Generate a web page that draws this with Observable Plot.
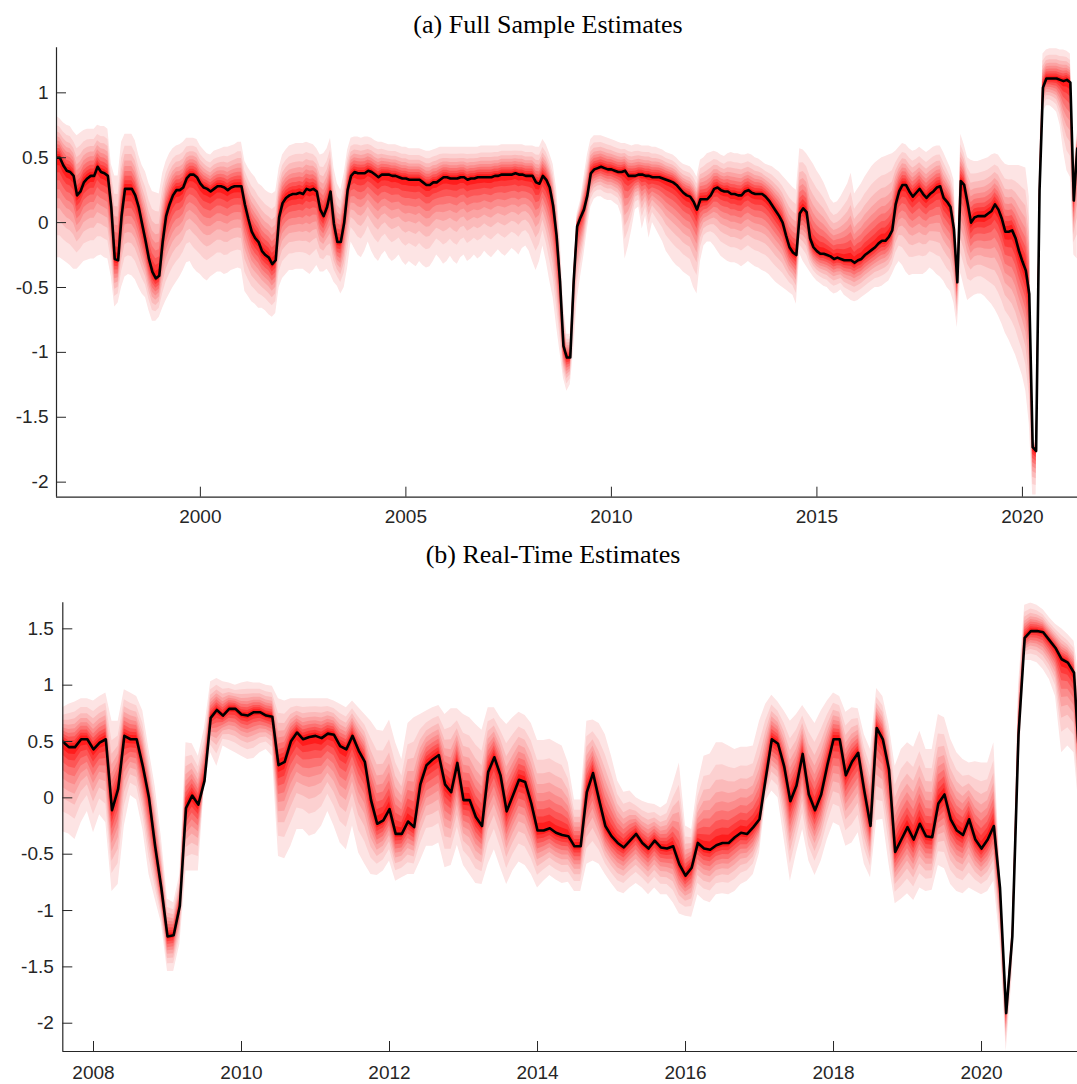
<!DOCTYPE html>
<html>
<head>
<meta charset="utf-8">
<script src="https://cdn.jsdelivr.net/npm/d3@7"></script>
<script src="https://cdn.jsdelivr.net/npm/@observablehq/plot@0.6"></script>
<style>
  body { margin: 0; background: #fff; }
  #root { position: relative; width: 1077px; height: 1084px; overflow: hidden; background: #fff; }
  .panel { position: absolute; left: 0; }
  .title { position: absolute; left: 0; text-align: center; font-family: "Liberation Serif", "Times New Roman", serif; font-size: 26px; line-height: 26px; color: #000; white-space: nowrap; }
</style>
</head>
<body>
<div id="root">
  <div id="pa" class="panel" style="top:0px"></div>
  <div id="pb" class="panel" style="top:540px"></div>
  <div class="title" style="top:12px; width:1096px;">(a) Full Sample Estimates</div>
  <div class="title" style="top:542px; width:1106px;">(b) Real-Time Estimates</div>
</div>
<script>
// ---------- Panel (a): full sample, monthly from Jul 1996 ----------
const startA = 1996.5;
const medA = [
 0.50,0.50,0.44,0.40,0.39,0.36,0.21,0.24,0.31,0.34,
 0.36,0.36,0.43,0.39,0.38,0.36,0.12,-0.28,-0.29,0.05,
 0.26,0.26,0.26,0.21,0.12,-0.01,-0.14,-0.28,-0.38,-0.43,
 -0.41,-0.15,0.05,0.14,0.21,0.25,0.25,0.27,0.34,0.37,
 0.37,0.35,0.30,0.27,0.26,0.24,0.26,0.28,0.28,0.27,
 0.25,0.27,0.28,0.28,0.28,0.14,0.03,-0.07,-0.12,-0.15,
 -0.22,-0.25,-0.27,-0.32,-0.29,0.04,0.15,0.19,0.21,0.22,
 0.22,0.23,0.22,0.26,0.25,0.26,0.24,0.10,0.05,0.12,
 0.24,-0.01,-0.15,-0.15,0.00,0.25,0.36,0.39,0.38,0.38,
 0.38,0.40,0.39,0.37,0.35,0.37,0.37,0.37,0.36,0.36,
 0.35,0.34,0.34,0.33,0.33,0.33,0.33,0.31,0.29,0.29,
 0.31,0.31,0.33,0.35,0.35,0.34,0.34,0.34,0.35,0.35,
 0.33,0.34,0.34,0.35,0.35,0.35,0.35,0.35,0.36,0.36,
 0.37,0.37,0.37,0.37,0.38,0.37,0.37,0.36,0.36,0.36,
 0.31,0.30,0.36,0.33,0.27,0.13,-0.10,-0.45,-0.95,-1.04,
 -1.04,-0.45,-0.03,0.04,0.10,0.21,0.38,0.41,0.42,0.43,
 0.42,0.41,0.41,0.40,0.39,0.39,0.40,0.36,0.36,0.36,
 0.37,0.37,0.36,0.36,0.35,0.35,0.35,0.34,0.33,0.32,
 0.31,0.29,0.26,0.23,0.21,0.20,0.16,0.10,0.18,0.18,
 0.18,0.21,0.26,0.27,0.25,0.24,0.24,0.22,0.22,0.21,
 0.21,0.24,0.25,0.23,0.22,0.22,0.22,0.20,0.17,0.13,
 0.09,0.05,0.00,-0.10,-0.19,-0.23,-0.25,0.07,0.11,0.08,
 -0.12,-0.19,-0.22,-0.24,-0.24,-0.25,-0.26,-0.28,-0.27,-0.28,
 -0.29,-0.29,-0.29,-0.31,-0.29,-0.28,-0.25,-0.23,-0.21,-0.19,
 -0.16,-0.14,-0.14,-0.11,-0.06,0.14,0.24,0.29,0.29,0.24,
 0.20,0.23,0.26,0.22,0.19,0.22,0.24,0.27,0.28,0.19,
 0.16,0.12,-0.05,-0.46,0.32,0.29,0.15,0.00,0.04,0.05,
 0.05,0.05,0.07,0.09,0.14,0.10,0.03,-0.07,-0.07,-0.06,
 -0.12,-0.22,-0.30,-0.37,-0.55,-1.73,-1.76,0.25,1.04,1.11,
 1.11,1.11,1.11,1.10,1.09,1.10,1.08,0.17,0.57
];
const hiA = [
 0.82,0.80,0.77,0.75,0.74,0.70,0.67,0.69,0.71,0.72,
 0.72,0.72,0.75,0.74,0.74,0.72,0.45,0.36,0.36,0.62,
 0.68,0.68,0.68,0.63,0.52,0.44,0.39,0.30,0.24,0.23,
 0.22,0.38,0.47,0.53,0.57,0.59,0.60,0.62,0.65,0.65,
 0.65,0.64,0.59,0.56,0.53,0.52,0.55,0.56,0.57,0.58,
 0.58,0.59,0.60,0.62,0.62,0.47,0.42,0.38,0.35,0.30,
 0.28,0.25,0.23,0.22,0.24,0.42,0.52,0.56,0.59,0.60,
 0.61,0.61,0.61,0.62,0.61,0.60,0.57,0.52,0.53,0.57,
 0.65,0.42,0.30,0.25,0.38,0.56,0.65,0.66,0.66,0.65,
 0.66,0.66,0.65,0.63,0.62,0.62,0.61,0.60,0.60,0.60,
 0.59,0.58,0.58,0.57,0.57,0.57,0.57,0.56,0.55,0.55,
 0.56,0.57,0.58,0.58,0.58,0.58,0.58,0.58,0.58,0.58,
 0.58,0.58,0.58,0.58,0.59,0.59,0.59,0.59,0.59,0.59,
 0.60,0.60,0.60,0.60,0.60,0.60,0.60,0.59,0.59,0.59,
 0.58,0.58,0.64,0.60,0.53,0.45,0.26,-0.09,-0.62,-0.86,
 -0.86,-0.34,0.07,0.17,0.35,0.52,0.64,0.67,0.67,0.67,
 0.66,0.65,0.64,0.63,0.62,0.61,0.61,0.60,0.59,0.60,
 0.60,0.59,0.59,0.59,0.58,0.58,0.57,0.56,0.54,0.53,
 0.52,0.50,0.47,0.45,0.44,0.43,0.40,0.35,0.48,0.50,
 0.53,0.54,0.55,0.54,0.52,0.51,0.53,0.54,0.53,0.53,
 0.52,0.52,0.53,0.52,0.50,0.49,0.47,0.45,0.44,0.43,
 0.41,0.39,0.36,0.33,0.30,0.27,0.25,0.57,0.56,0.53,
 0.49,0.45,0.40,0.36,0.31,0.25,0.18,0.15,0.16,0.20,
 0.25,0.30,0.38,0.22,0.26,0.30,0.35,0.39,0.43,0.46,
 0.48,0.50,0.51,0.52,0.53,0.55,0.58,0.61,0.60,0.57,
 0.55,0.56,0.58,0.56,0.54,0.56,0.58,0.59,0.59,0.54,
 0.48,0.42,0.33,-0.24,0.68,0.60,0.50,0.48,0.47,0.47,
 0.48,0.49,0.50,0.52,0.53,0.52,0.48,0.45,0.44,0.44,
 0.44,0.44,0.43,0.42,0.20,-1.68,-1.68,0.50,1.30,1.33,
 1.34,1.34,1.34,1.33,1.33,1.32,1.30,0.40,0.72
];
const loA = [
 -0.27,-0.27,-0.29,-0.31,-0.33,-0.36,-0.36,-0.33,-0.30,-0.29,
 -0.28,-0.28,-0.26,-0.25,-0.27,-0.28,-0.42,-0.65,-0.62,-0.50,
 -0.42,-0.40,-0.41,-0.44,-0.50,-0.55,-0.58,-0.68,-0.76,-0.76,
 -0.73,-0.66,-0.60,-0.55,-0.50,-0.46,-0.42,-0.37,-0.31,-0.30,
 -0.35,-0.38,-0.40,-0.43,-0.45,-0.42,-0.40,-0.38,-0.38,-0.40,
 -0.39,-0.37,-0.36,-0.35,-0.36,-0.53,-0.57,-0.61,-0.63,-0.66,
 -0.66,-0.68,-0.71,-0.73,-0.70,-0.50,-0.43,-0.40,-0.37,-0.37,
 -0.36,-0.36,-0.36,-0.38,-0.40,-0.37,-0.33,-0.38,-0.38,-0.36,
 -0.40,-0.46,-0.49,-0.55,-0.50,-0.35,-0.15,-0.20,-0.25,-0.27,
 -0.22,-0.15,-0.22,-0.27,-0.30,-0.25,-0.22,-0.27,-0.30,-0.28,
 -0.25,-0.30,-0.33,-0.30,-0.32,-0.34,-0.30,-0.33,-0.35,-0.34,
 -0.30,-0.25,-0.28,-0.32,-0.30,-0.26,-0.30,-0.32,-0.27,-0.25,
 -0.30,-0.28,-0.25,-0.28,-0.26,-0.22,-0.25,-0.27,-0.24,-0.21,
 -0.24,-0.26,-0.23,-0.20,-0.22,-0.25,-0.20,-0.18,-0.22,-0.30,
 -0.37,-0.30,-0.18,-0.30,-0.45,-0.58,-0.80,-1.00,-1.20,-1.30,
 -1.25,-0.98,-0.60,-0.42,-0.25,-0.05,0.12,0.18,0.20,0.20,
 0.18,0.17,0.17,0.15,0.13,0.05,-0.28,-0.18,-0.05,0.10,
 0.12,-0.05,0.05,-0.12,0.00,-0.05,-0.10,-0.15,-0.22,-0.26,
 -0.30,-0.33,-0.35,-0.38,-0.40,-0.42,-0.50,-0.55,-0.30,-0.18,
 -0.15,-0.15,-0.18,-0.22,-0.26,-0.28,-0.30,-0.31,-0.31,-0.32,
 -0.34,-0.32,-0.30,-0.32,-0.34,-0.35,-0.37,-0.38,-0.40,-0.43,
 -0.46,-0.48,-0.50,-0.52,-0.54,-0.56,-0.63,-0.24,-0.30,-0.34,
 -0.38,-0.42,-0.45,-0.47,-0.49,-0.50,-0.53,-0.55,-0.54,-0.52,
 -0.56,-0.58,-0.60,-0.61,-0.60,-0.58,-0.56,-0.54,-0.52,-0.50,
 -0.50,-0.49,-0.47,-0.45,-0.40,-0.34,-0.30,-0.33,-0.38,-0.41,
 -0.40,-0.40,-0.40,-0.40,-0.38,-0.35,-0.37,-0.40,-0.42,-0.45,
 -0.50,-0.53,-0.62,-0.81,-0.39,-0.50,-0.60,-0.58,-0.56,-0.55,
 -0.55,-0.57,-0.60,-0.63,-0.67,-0.72,-0.78,-0.85,-0.90,-0.96,
 -1.02,-1.10,-1.18,-1.30,-1.55,-2.10,-2.10,0.05,0.85,0.90,
 0.90,0.88,0.85,0.75,0.55,0.40,0.35,-0.25,-0.28
];

// ---------- Panel (b): real-time, monthly from Aug 2007 ----------
const startB = 2007 + 7 / 12;
const medB = [
 0.50,0.45,0.45,0.52,0.52,0.43,0.49,0.52,-0.11,0.08,
 0.55,0.52,0.52,0.28,0.00,-0.43,-0.80,-1.23,-1.22,-0.96,
 -0.09,0.02,-0.06,0.15,0.71,0.78,0.73,0.79,0.79,0.74,
 0.73,0.76,0.76,0.73,0.72,0.29,0.32,0.50,0.58,0.52,
 0.54,0.55,0.53,0.57,0.56,0.46,0.43,0.55,0.42,0.32,
 -0.02,-0.23,-0.20,-0.10,-0.32,-0.32,-0.21,-0.26,0.12,0.29,
 0.34,0.38,0.12,0.05,0.31,-0.02,-0.02,-0.17,-0.25,0.23,
 0.36,0.20,-0.12,0.02,0.16,0.14,-0.05,-0.29,-0.29,-0.27,
 -0.31,-0.33,-0.34,-0.43,-0.43,0.05,0.22,-0.02,-0.25,-0.34,
 -0.40,-0.44,-0.38,-0.32,-0.40,-0.45,-0.38,-0.44,-0.45,-0.43,
 -0.59,-0.69,-0.62,-0.40,-0.45,-0.46,-0.42,-0.40,-0.40,-0.35,
 -0.31,-0.32,-0.26,-0.19,0.17,0.52,0.48,0.28,-0.03,0.11,
 0.39,0.03,-0.11,0.03,0.29,0.52,0.52,0.20,0.32,0.40,
 0.06,-0.25,0.62,0.52,0.25,-0.48,-0.37,-0.26,-0.37,-0.23,
 -0.34,-0.35,-0.05,0.03,-0.19,-0.29,-0.33,-0.19,-0.37,-0.45,
 -0.37,-0.25,-0.80,-1.91,-1.23,0.56,1.42,1.48,1.48,1.47,
 1.40,1.33,1.23,1.20,1.11,0.20
];
const hiB = [
 0.80,0.83,0.85,0.88,0.88,0.86,0.90,0.93,0.68,0.68,
 0.96,0.93,0.90,0.77,0.43,0.10,-0.35,-0.90,-0.93,-0.68,
 0.49,0.48,0.37,0.62,1.03,1.06,1.03,1.02,1.00,1.02,
 1.03,1.02,1.02,1.00,0.99,0.88,0.86,0.88,0.88,0.88,
 0.88,0.88,0.88,0.88,0.86,0.83,0.80,0.86,0.80,0.74,
 0.68,0.60,0.59,0.69,0.49,0.34,0.66,0.71,0.74,0.77,
 0.80,0.82,0.74,0.79,0.79,0.74,0.71,0.65,0.60,0.80,
 0.80,0.71,0.65,0.71,0.76,0.73,0.66,0.51,0.51,0.52,
 0.49,0.46,0.31,-0.02,-0.02,0.68,0.69,0.66,0.56,0.37,
 0.15,0.05,0.06,0.00,-0.03,-0.05,-0.06,-0.09,-0.05,0.12,
 0.31,-0.25,-0.28,0.12,0.37,0.39,0.49,0.49,0.46,0.43,
 0.45,0.45,0.46,0.68,0.83,0.91,0.85,0.77,0.68,0.74,
 0.82,0.74,0.66,0.77,0.86,0.93,0.90,0.76,0.80,0.79,
 0.56,0.43,0.97,0.90,0.65,0.28,0.43,0.49,0.45,0.59,
 0.43,0.43,0.74,0.71,0.52,0.40,0.34,0.31,0.32,0.31,
 0.31,0.49,-0.60,-1.85,-1.10,1.00,1.71,1.73,1.71,1.67,
 1.60,1.54,1.50,1.45,1.39,1.00
];
const loB = [
 -0.30,-0.32,-0.37,-0.22,-0.12,-0.31,-0.15,-0.22,-0.83,-0.77,
 -0.25,0.02,-0.02,-0.28,-0.68,-0.90,-1.11,-1.54,-1.54,-1.30,
 -0.65,-0.65,-0.65,0.12,0.40,0.28,0.46,0.43,0.40,0.37,
 0.34,0.35,0.40,0.43,0.37,-0.52,-0.54,-0.43,-0.28,-0.28,
 -0.34,-0.32,-0.25,-0.12,-0.25,-0.40,-0.46,-0.25,-0.49,-0.59,
 -0.68,-0.69,-0.65,-0.56,-0.74,-0.71,-0.68,-0.68,-0.56,-0.43,
 -0.43,-0.40,-0.62,-0.60,-0.42,-0.60,-0.68,-0.76,-0.77,-0.59,
 -0.46,-0.62,-0.77,-0.65,-0.57,-0.60,-0.68,-0.80,-0.74,-0.69,
 -0.73,-0.76,-0.75,-0.83,-0.83,-0.59,-0.56,-0.59,-0.68,-0.76,
 -0.83,-0.85,-0.80,-0.76,-0.80,-0.86,-0.80,-0.86,-0.86,-0.93,
 -1.03,-1.05,-1.06,-0.86,-0.91,-0.93,-0.86,-0.85,-0.86,-0.83,
 -0.77,-0.74,-0.68,-0.49,-0.03,0.06,0.00,-0.37,-0.74,-0.49,
 -0.28,-0.56,-0.69,-0.56,-0.37,-0.22,-0.25,-0.43,-0.40,-0.31,
 -0.59,-0.71,-0.20,-0.19,-0.59,-0.94,-0.90,-0.85,-0.91,-0.80,
 -0.83,-0.82,-0.60,-0.63,-0.77,-0.83,-0.85,-0.80,-0.83,-0.86,
 -0.83,-0.74,-1.27,-2.25,-1.57,0.20,1.22,1.22,1.20,1.14,
 1.05,0.90,0.40,0.46,0.40,-0.20
];

// ---------- Fan styling: quantile-band fractions and colours (outer -> inner) ----------
const levels = [1, 0.78, 0.63, 0.51, 0.41, 0.32, 0.23, 0.15, 0.08];
const bandColors = ["#fde4e4","#fcd0d0","#fbbaba","#fba3a3","#fb8c8c","#fc7272","#fd5656","#fe3a3a","#ff1c1c"];

// ---------- Axis ticks ----------
const xTicksA = [2000, 2005, 2010, 2015, 2020];
const yTicksA = [-2, -1.5, -1, -0.5, 0, 0.5, 1];
const xTicksB = [2008, 2010, 2012, 2014, 2016, 2018, 2020];
const yTicksB = [-2, -1.5, -1, -0.5, 0, 0.5, 1, 1.5];

const axisColor = "#262626";

function fanPanel({start, med, lo, hi, xDomain, yDomain, xTicks, yTicks, height, mTop, mBottom, mLeft, xPad, yPad}) {
  const rows = med.map((m, i) => ({x: start + i / 12, m, lo: lo[i], hi: hi[i]}));
  const bands = levels.map((f, k) => Plot.areaY(rows, {
    x: "x",
    y1: d => d.m + f * (d.lo - d.m),
    y2: d => d.m + f * (d.hi - d.m),
    fill: bandColors[k],
    clip: true
  }));
  const fmt = d => String(d);
  return Plot.plot({
    width: 1077,
    height,
    marginTop: mTop,
    marginBottom: mBottom,
    marginLeft: mLeft,
    marginRight: 0,
    x: {domain: xDomain},
    y: {domain: yDomain},
    style: {fontFamily: "'Liberation Sans', Arial, Helvetica, sans-serif", fontSize: "19px", color: axisColor, background: "transparent"},
    marks: [
      ...bands,
      Plot.lineY(rows, {x: "x", y: "m", stroke: "#000", strokeWidth: 2.6, strokeLinejoin: "round", clip: true}),
      Plot.ruleX([xDomain[0]], {stroke: axisColor, strokeWidth: 1.2}),
      Plot.ruleY([yDomain[0]], {stroke: axisColor, strokeWidth: 1.2}),
      // inward tick marks
      Plot.axisX({ticks: xTicks, tickSize: 10, dy: -10, tickFormat: () => "", label: null, stroke: axisColor}),
      Plot.axisY({ticks: yTicks, tickSize: 10, dx: 10, tickFormat: () => "", label: null, stroke: axisColor}),
      // labels
      Plot.axisX({ticks: xTicks, tickSize: 0, tickPadding: xPad, tickFormat: fmt, label: null, fill: axisColor}),
      Plot.axisY({ticks: yTicks, tickSize: 0, tickPadding: yPad, tickFormat: fmt, label: null, fill: axisColor})
    ]
  });
}

document.getElementById("pa").appendChild(fanPanel({
  start: startA, med: medA, lo: loA, hi: hiA,
  xDomain: [1996.5, 2021.34], yDomain: [-2.116, 1.347],
  xTicks: xTicksA, yTicks: yTicksA,
  height: 530, mTop: 47.3, mBottom: 33.3, mLeft: 56, xPad: 12, yPad: 8
}));

document.getElementById("pb").appendChild(fanPanel({
  start: startB, med: medB, lo: loB, hi: hiB,
  xDomain: [2007.585, 2021.297], yDomain: [-2.251, 1.731],
  xTicks: xTicksB, yTicks: yTicksB,
  height: 544, mTop: 62.3, mBottom: 33, mLeft: 62.3, xPad: 14, yPad: 9
}));
</script>
</body>
</html>
